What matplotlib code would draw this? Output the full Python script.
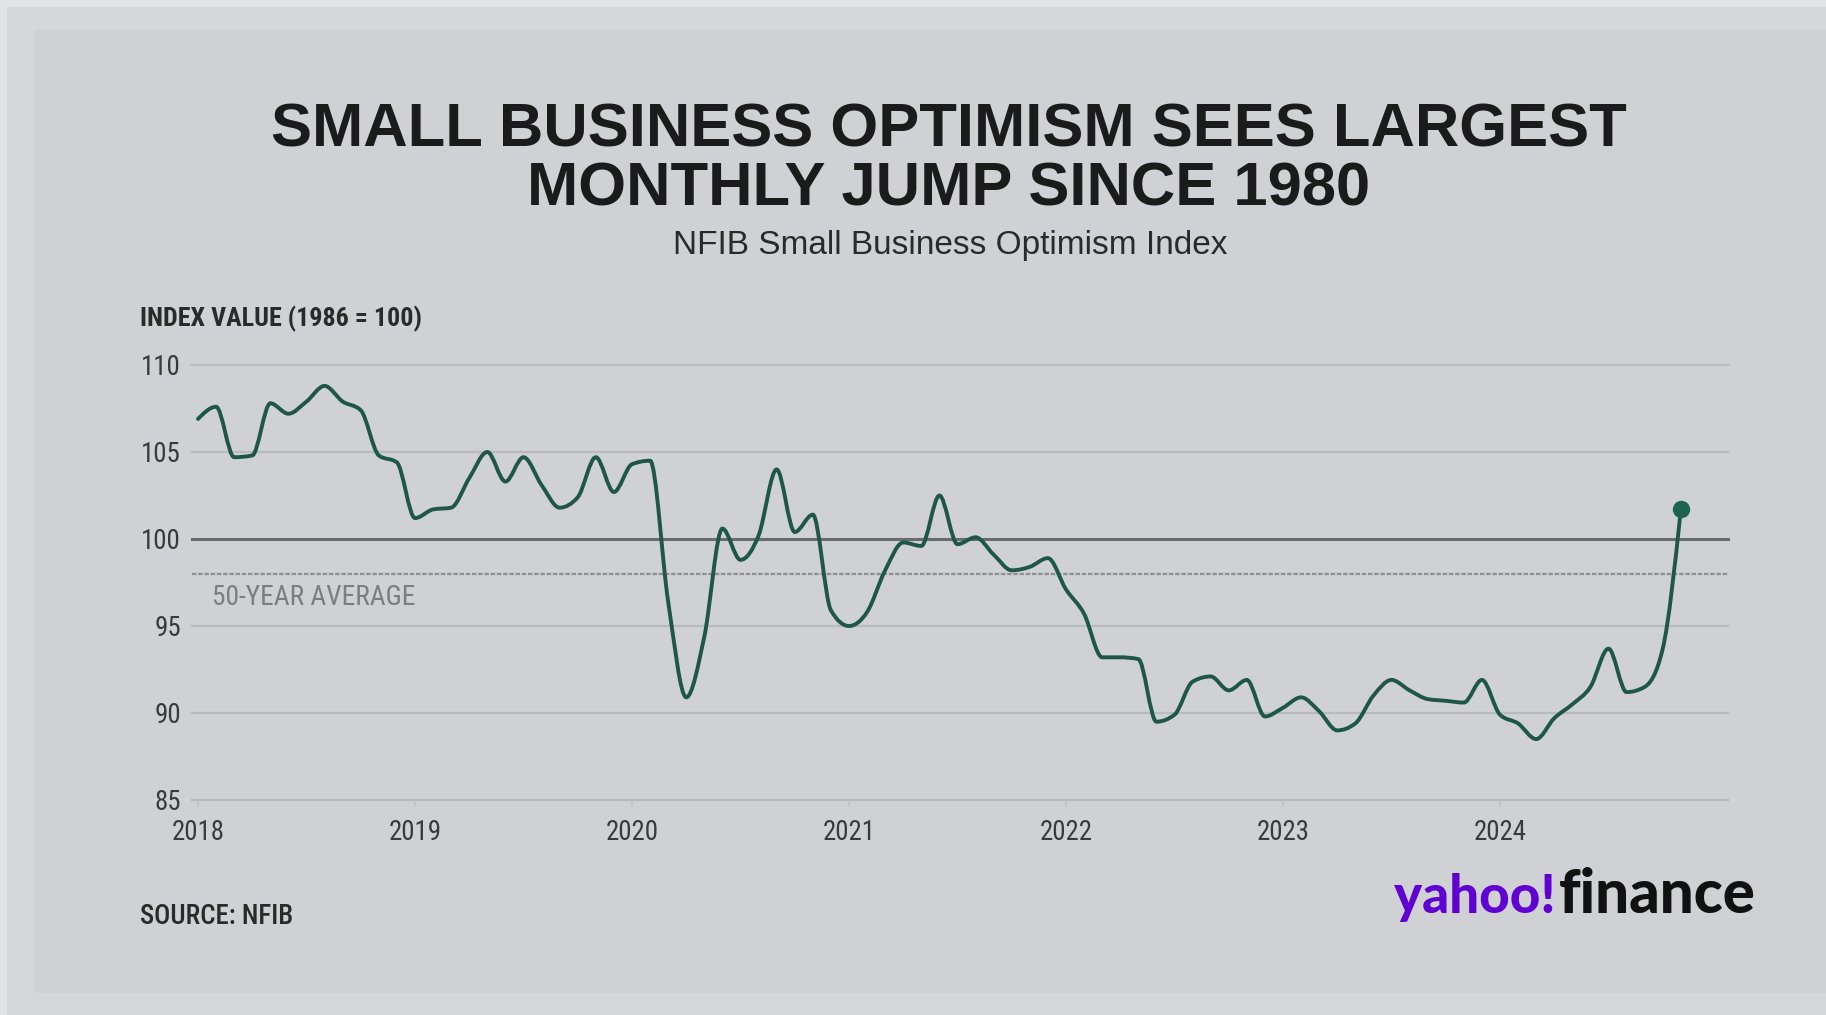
import matplotlib
matplotlib.use("Agg")
import matplotlib.pyplot as plt
from matplotlib import font_manager as fm
from matplotlib.path import Path
from matplotlib.patches import PathPatch, Rectangle
import numpy as np

# ---------------- data ----------------
start_year = 2018
values_2018 = [106.9, 107.6, 104.7, 104.8, 107.8, 107.2, 107.9, 108.8, 107.9, 107.4, 104.8, 104.4]
values_2019 = [101.2, 101.7, 101.8, 103.5, 105.0, 103.3, 104.7, 103.1, 101.8, 102.4, 104.7, 102.7]
values_2020 = [104.3, 104.5, 96.4, 90.9, 94.4, 100.6, 98.8, 100.2, 104.0, 100.4, 101.4, 95.9]
values_2021 = [95.0, 95.8, 98.2, 99.8, 99.6, 102.5, 99.7, 100.1, 99.1, 98.2, 98.4, 98.9]
values_2022 = [97.1, 95.7, 93.2, 93.2, 93.1, 89.5, 89.9, 91.8, 92.1, 91.3, 91.9, 89.8]
values_2023 = [90.3, 90.9, 90.1, 89.0, 89.4, 91.0, 91.9, 91.3, 90.8, 90.7, 90.6, 91.9]
values_2024 = [89.9, 89.4, 88.5, 89.7, 90.5, 91.5, 93.7, 91.2, 91.5, 93.7, 101.7]
year_ticks = [2018, 2019, 2020, 2021, 2022, 2023, 2024]
y_ticks = [85, 90, 95, 100, 105, 110]
baseline_value = 100
avg_50yr = 98

title_line1 = "SMALL BUSINESS OPTIMISM SEES LARGEST"
title_line2 = "MONTHLY JUMP SINCE 1980"
subtitle = "NFIB Small Business Optimism Index"
y_label = "INDEX VALUE (1986 = 100)"
avg_label = "50-YEAR AVERAGE"
source = "SOURCE: NFIB"

values = np.array(values_2018 + values_2019 + values_2020 + values_2021 +
                  values_2022 + values_2023 + values_2024)
dates = start_year + np.arange(len(values)) / 12.0


# ---------------- fonts ----------------
def has_font(fam, **kw):
    try:
        fm.findfont(fm.FontProperties(family=fam, **kw), fallback_to_default=False)
        return True
    except Exception:
        return False

NARROW = None
NARROW_STRETCH = "normal"
for fam in ["Liberation Sans Narrow", "Roboto Condensed", "Noto Sans", "Open Sans",
            "DejaVu Sans", "Inter"]:
    try:
        p = fm.findfont(fm.FontProperties(family=fam, stretch="condensed"),
                        fallback_to_default=False)
    except Exception:
        continue
    low = p.lower()
    if fam == "Liberation Sans Narrow" or fam == "Roboto Condensed" or "condensed" in low or "narrow" in low:
        NARROW = fam
        NARROW_STRETCH = "condensed"
        break
if NARROW is None:
    NARROW = "Roboto" if has_font("Roboto") else "Liberation Sans"

BOLDF = "Liberation Sans" if has_font("Liberation Sans") else "DejaVu Sans"
LOGOF = "Lato" if has_font("Lato") else BOLDF

W, H = 1826, 1015
fig = plt.figure(figsize=(W / 100, H / 100), dpi=100)
fig.patch.set_facecolor("#d6d7d9")
renderer = fig.canvas.get_renderer()

def fx(px):
    return px / W

def fy(py):
    return 1 - py / H

def fit_width(txt, target_px):
    wpx = txt.get_window_extent(renderer).width
    if wpx > 0:
        txt.set_fontsize(txt.get_fontsize() * target_px / wpx)

# background card
fig.patches.append(Rectangle((0, 0), 1, 1, transform=fig.transFigure,
                             facecolor="#d6d7d9", edgecolor="none", zorder=-10))
fig.patches.append(Rectangle((fx(35), fy(993)), 1 - fx(35), fy(30) - fy(993),
                             transform=fig.transFigure, facecolor="#cfd1d5",
                             edgecolor="none", zorder=-9))
fig.patches.append(Rectangle((0, fy(7)), 1, 1 - fy(7), transform=fig.transFigure,
                             facecolor="#e2e3e4", edgecolor="none", zorder=-8))
fig.patches.append(Rectangle((0, 0), fx(7), 1, transform=fig.transFigure,
                             facecolor="#e2e3e4", edgecolor="none", zorder=-8))

# ---------------- axes ----------------
ax_left, ax_right, ax_top, ax_bottom = 192, 1728, 365, 800
ax = fig.add_axes([fx(ax_left), fy(ax_bottom), fx(ax_right) - fx(ax_left), fy(ax_top) - fy(ax_bottom)])
ax.set_facecolor("none")
px_per_year = 217.0
x0 = start_year - (198 - ax_left) / px_per_year
x1 = start_year + (ax_right - 198) / px_per_year
ax.set_xlim(x0, x1)
ax.set_ylim(y_ticks[0], y_ticks[-1])
for s in ax.spines.values():
    s.set_visible(False)

grid_color = "#b9babe"
for v in y_ticks:
    if v == baseline_value:
        continue
    ax.axhline(v, color=grid_color, lw=1.6, zorder=1, clip_on=False)
ax.axhline(baseline_value, color="#6a6b6d", lw=2.2, zorder=2, clip_on=False)
ax.axhline(avg_50yr, color="#8e8f92", lw=1.6, ls=(0, (2.0, 0.8)), zorder=2, clip_on=False)

avg_txt = ax.text(start_year + (212 - 198) / px_per_year, 96.63, avg_label, family=NARROW,
                  stretch=NARROW_STRETCH, fontsize=19, color="#7c7d80", va="center", ha="left")
fit_width(avg_txt, 203)

# tick label size fitted so that a year label is ~52 px wide
probe = fig.text(0, 0, "2018", family=NARROW, stretch=NARROW_STRETCH, fontsize=19.5)
fit_width(probe, 53)
tick_fs = min(probe.get_fontsize(), 22)
probe.remove()

ax.set_yticks(y_ticks)
ax.set_yticklabels([str(v) for v in y_ticks], family=NARROW, stretch=NARROW_STRETCH,
                   fontsize=tick_fs, color="#3a3a3a")
ax.tick_params(axis="y", length=0, pad=8)
ax.set_xticks(year_ticks)
ax.set_xticklabels([str(v) for v in year_ticks], family=NARROW, stretch=NARROW_STRETCH,
                   fontsize=tick_fs, color="#3a3a3a")
ax.tick_params(axis="x", length=5, width=1.2, color="#c2c3c6", pad=9)

# monotone cubic (d3 monotoneX) bezier path through the data
n = len(dates)
hx = np.diff(dates)
sl = np.diff(values) / hx
t = np.zeros(n)
for i in range(1, n - 1):
    h0, h1 = hx[i - 1], hx[i]
    s0, s1 = sl[i - 1], sl[i]
    p = (s0 * h1 + s1 * h0) / (h0 + h1)
    t[i] = (np.sign(s0) + np.sign(s1)) * min(abs(s0), abs(s1), 0.5 * abs(p))
t[0] = (3 * sl[0] - t[1]) / 2
t[-1] = (3 * sl[-1] - t[-2]) / 2
verts = [(dates[0], values[0])]
codes = [Path.MOVETO]
for i in range(n - 1):
    dx = (dates[i + 1] - dates[i]) / 3
    verts += [(dates[i] + dx, values[i] + dx * t[i]),
              (dates[i + 1] - dx, values[i + 1] - dx * t[i + 1]),
              (dates[i + 1], values[i + 1])]
    codes += [Path.CURVE4] * 3
line_color = "#1e5747"
ax.add_patch(PathPatch(Path(verts, codes), facecolor="none", edgecolor=line_color,
                       lw=2.8, capstyle="round", joinstyle="round", zorder=5))
ax.plot(dates[-1:], values[-1:], "o", color="#1c6450", markersize=11.5, zorder=6, clip_on=False)

# ---------------- texts ----------------
fig.text(fx(949), fy(146.6), title_line1, family=BOLDF, weight="bold", fontsize=44.3,
         color="#1b1b1b", ha="center", va="baseline")
fig.text(fx(949), fy(205), title_line2, family=BOLDF, weight="bold", fontsize=44.3,
         color="#1b1b1b", ha="center", va="baseline")
fig.text(fx(950), fy(254), subtitle, family=BOLDF, fontsize=24,
         color="#2a2a2a", ha="center", va="baseline")
ylab = fig.text(fx(140), fy(326), y_label, family=NARROW, stretch=NARROW_STRETCH,
                weight="bold", fontsize=19.4, color="#2a2a2a", ha="left", va="baseline")
fit_width(ylab, 281)
src = fig.text(fx(140), fy(923.5), source, family=NARROW, stretch=NARROW_STRETCH,
               fontsize=19.4, weight="medium", color="#2a2a2a", ha="left", va="baseline")
fit_width(src, 153)

# logo
logo_y = fy(913)
yah = fig.text(fx(1555), logo_y, "yahoo!", family=LOGOF, weight="black", fontsize=40,
               color="#6001d2", ha="right", va="baseline")
fit_width(yah, 161)
fin = fig.text(fx(1559), logo_y, "finance", family=LOGOF, weight="black", fontsize=40,
               color="#111111", ha="left", va="baseline")
fit_width(fin, 197)

fig.savefig("out.png", dpi=100, facecolor=fig.get_facecolor())
